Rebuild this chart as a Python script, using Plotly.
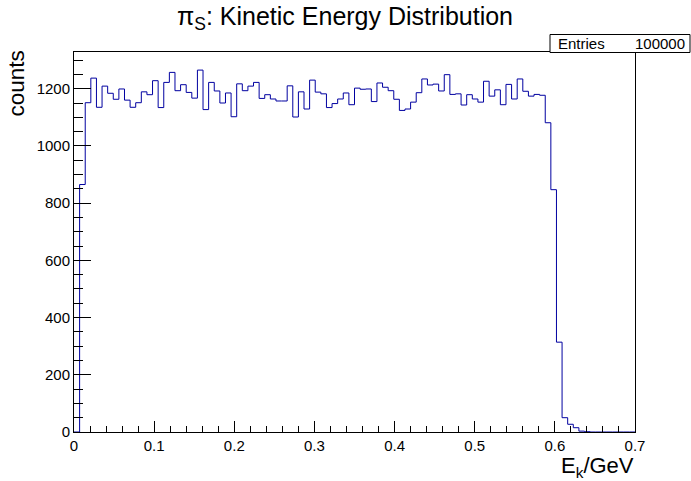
import plotly.graph_objects as go

# ---- data ----
bin_low = 0.0
bin_high = 0.7
n_bins = 100
counts = [
    0, 865, 1151, 1237, 1135, 1209, 1184, 1163, 1199, 1160,
    1135, 1151, 1189, 1179, 1228, 1134, 1222, 1257, 1193, 1214,
    1187, 1167, 1265, 1127, 1222, 1192, 1150, 1185, 1102, 1217,
    1193, 1209, 1222, 1166, 1179, 1164, 1157, 1157, 1210, 1101,
    1189, 1129, 1230, 1188, 1182, 1134, 1148, 1164, 1185, 1144,
    1202, 1198, 1199, 1155, 1220, 1205, 1193, 1163, 1124, 1129,
    1153, 1186, 1234, 1213, 1216, 1192, 1249, 1180, 1182, 1143,
    1179, 1164, 1153, 1226, 1174, 1196, 1144, 1215, 1164, 1234,
    1191, 1174, 1180, 1177, 1081, 847, 314, 50, 27, 15,
    3, 1, 0, 0, 0, 0, 0, 0, 0, 0,
]
x_ticks = [0, 0.1, 0.2, 0.3, 0.4, 0.5, 0.6, 0.7]
x_tick_labels = ["0", "0.1", "0.2", "0.3", "0.4", "0.5", "0.6", "0.7"]
y_ticks = [0, 200, 400, 600, 800, 1000, 1200]
y_tick_labels = ["0", "200", "400", "600", "800", "1000", "1200"]
entries_label = "Entries"
entries_value = "100000"
title_text = "π<sub>S</sub>: Kinetic Energy Distribution"
x_title = "E<sub>k</sub>/GeV"
y_title = "counts"

W, H = 691, 481
L, R, T, B = 74, 56, 52, 49
FONT = "Liberation Sans, Arial, Helvetica, sans-serif"

width = (bin_high - bin_low) / n_bins
edges = [bin_low + i * width for i in range(n_bins + 1)]
ys = counts + [counts[-1]]

fig = go.Figure()
fig.add_trace(go.Scatter(
    x=edges, y=ys, mode="lines", line=dict(shape="hv", color="#0000a0", width=1),
    showlegend=False, hoverinfo="skip",
))

ymax = max(counts) * 1.05

fig.update_layout(
    width=W, height=H,
    margin=dict(l=L, r=R, t=T, b=B, pad=0),
    paper_bgcolor="white", plot_bgcolor="white",
    font=dict(family=FONT, color="black"),
    xaxis=dict(
        range=[bin_low, bin_high], showgrid=False, zeroline=False,
        showline=True, linecolor="black", linewidth=1, mirror=True,
        ticks="inside", ticklen=11, tickwidth=1, tickcolor="black",
        tickvals=x_ticks, ticktext=x_tick_labels,
        tickfont=dict(size=15, family=FONT),
        minor=dict(dtick=0.02, ticks="inside", ticklen=5.7, tickcolor="black", tickwidth=1),
    ),
    yaxis=dict(
        range=[0, ymax], showgrid=False, zeroline=False,
        showline=True, linecolor="black", linewidth=1, mirror=True,
        ticks="inside", ticklen=17, tickwidth=1, tickcolor="black",
        tickvals=y_ticks, ticktext=y_tick_labels,
        tickfont=dict(size=15, family=FONT),
        minor=dict(dtick=50, ticks="inside", ticklen=8.5, tickcolor="black", tickwidth=1),
    ),
)

pw, ph = W - L - R, H - T - B

def ax(p):
    return (p - L) / pw

def ay(p):
    return 1 - (p - T) / ph

# title
fig.add_annotation(
    xref="paper", yref="paper", x=ax(345), y=ay(18),
    text=title_text, showarrow=False, xanchor="center", yanchor="middle",
    font=dict(size=25, family=FONT, color="black"),
)
# y title
fig.add_annotation(
    xref="paper", yref="paper", x=ax(16), y=ay(83.5),
    text=y_title, showarrow=False, textangle=-90, xanchor="center", yanchor="middle",
    font=dict(size=22.5, family=FONT, color="black"),
)
# x title
fig.add_annotation(
    xref="paper", yref="paper", x=ax(636), y=ay(467),
    text=x_title, showarrow=False, xanchor="right", yanchor="middle",
    font=dict(size=22, family=FONT, color="black"),
)

# stats box
bx0, bx1, by0, by1 = 550, 690, 34.5, 52.5
fig.add_shape(
    type="rect", xref="paper", yref="paper",
    x0=ax(bx0), x1=ax(bx1), y0=ay(by1), y1=ay(by0),
    line=dict(color="black", width=1), fillcolor="white", layer="above",
)
fig.add_annotation(
    xref="paper", yref="paper", x=ax(556), y=ay(43.5),
    text=entries_label, showarrow=False, xanchor="left", yanchor="middle",
    font=dict(size=15, family=FONT, color="black"),
)
fig.add_annotation(
    xref="paper", yref="paper", x=ax(687), y=ay(43.5),
    text=entries_value, showarrow=False, xanchor="right", yanchor="middle",
    font=dict(size=15, family=FONT, color="black"),
)

fig.write_html("out.html")
